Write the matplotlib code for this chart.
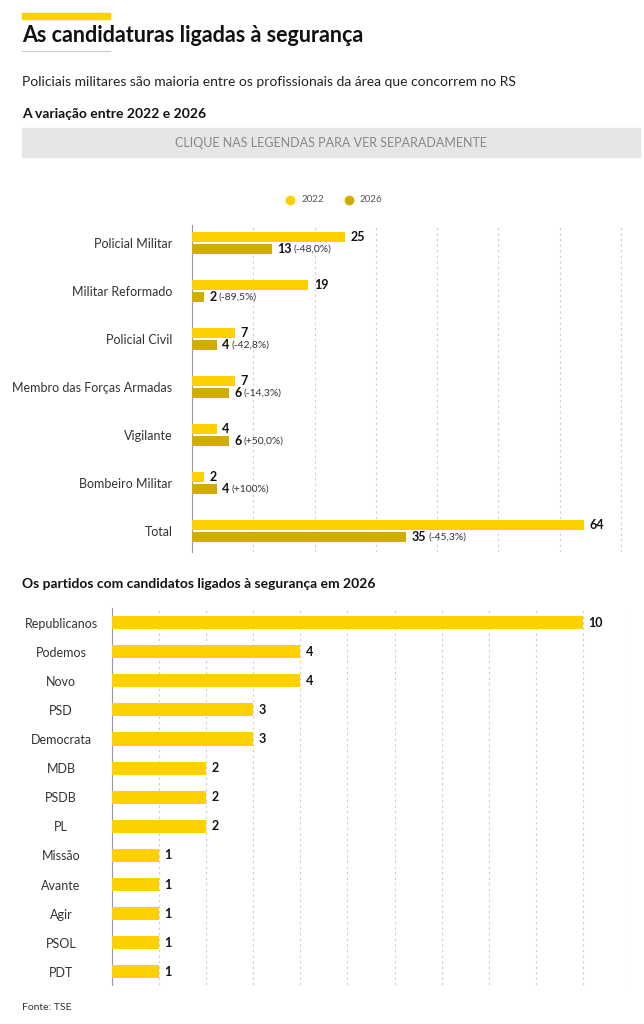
import matplotlib.pyplot as plt
from matplotlib.patches import Rectangle

plt.rcParams['font.family'] = ['Lato', 'DejaVu Sans']

# Data
roles = ['Policial Militar', 'Militar Reformado', 'Policial Civil', 'Membro das Forças Armadas',
         'Vigilante', 'Bombeiro Militar', 'Total']
v2022 = [25, 19, 7, 7, 4, 2, 64]
v2026 = [13, 2, 4, 6, 6, 4, 35]
pct = ['(-48,0%)', '(-89,5%)', '(-42,8%)', '(-14,3%)', '(+50,0%)', '(+100%)', '(-45,3%)']

parties = ['Republicanos', 'Podemos', 'Novo', 'PSD', 'Democrata', 'MDB', 'PSDB', 'PL',
           'Missão', 'Avante', 'Agir', 'PSOL', 'PDT']
party_vals = [10, 4, 4, 3, 3, 2, 2, 2, 1, 1, 1, 1, 1]

C22 = '#FDD000'
C26 = '#D2AC00'
W, H = 644, 1024

fig = plt.figure(figsize=(W / 100, H / 100), dpi=100)

def fx(px):
    return px / W

def fy(py):
    return 1 - py / H

# Header
fig.patches.append(Rectangle((fx(22), fy(19)), fx(88), 6 / H, color=C22, transform=fig.transFigure))
fig.text(fx(22), fy(36), 'As candidaturas ligadas à segurança', fontsize=15.5, fontweight='bold',
         va='center', color='#111111')
fig.add_artist(plt.Line2D([fx(22), fx(110)], [fy(51), fy(51)], color='#cccccc', lw=0.8))
fig.text(fx(22), fy(82), 'Policiais militares são maioria entre os profissionais da área que concorrem no RS',
         fontsize=10, va='center', color='#222222')
fig.text(fx(22), fy(114), 'A variação entre 2022 e 2026', fontsize=10, fontweight='bold',
         va='center', color='#111111')
fig.patches.append(Rectangle((fx(22), fy(157)), fx(618), 29 / H, color='#e6e6e6',
                             transform=fig.transFigure))
fig.text(fx(331), fy(143), 'CLIQUE NAS LEGENDAS PARA VER SEPARADAMENTE', fontsize=9,
         ha='center', va='center', color='#888888')

# Legend
for xp, lab, c in [(290, '2022', C22), (349, '2026', C26)]:
    fig.add_artist(plt.Line2D([fx(xp)], [fy(200)], marker='o', color=c, markersize=6, lw=0))
    fig.text(fx(xp + 11), fy(200), lab, fontsize=7, va='center', color='#555555')

# Chart 1
ax1 = fig.add_axes([fx(192), fy(552), fx(438), 327 / H])
y = list(range(len(roles)))
bh = 0.21
ax1.barh([i - 0.125 for i in y], v2022, height=bh, color=C22, zorder=3)
ax1.barh([i + 0.125 for i in y], v2026, height=bh, color=C26, zorder=3)
ax1.set_xlim(0, 71.5)
ax1.set_ylim(6.44, -0.375)
ax1.set_yticks(y)
ax1.set_yticklabels(roles, fontsize=9, color='#333333')
ax1.set_xticks(range(10, 71, 10))
ax1.set_xticklabels([])
ax1.tick_params(length=0, pad=14)
ax1.grid(axis='x', linestyle=(0, (2, 3)), color='#cccccc', lw=0.8, zorder=0)
for s in ['top', 'right', 'bottom']:
    ax1.spines[s].set_visible(False)
ax1.spines['left'].set_color('#999999')
for i in y:
    ax1.annotate(str(v2022[i]), (v2022[i], i - 0.125), xytext=(4, 0), textcoords='offset points',
                 fontsize=9, fontweight='bold', va='center', color='#111111')
    ax1.annotate(str(v2026[i]), (v2026[i], i + 0.125), xytext=(4, 0), textcoords='offset points',
                 fontsize=9, fontweight='bold', va='center', color='#111111')
    ax1.annotate(pct[i], (v2026[i], i + 0.125), xytext=(5 + 5.5 * len(str(v2026[i])), 0),
                 textcoords='offset points', fontsize=7.5, va='center', color='#333333')

# Chart 2
fig.text(fx(22), fy(584), 'Os partidos com candidatos ligados à segurança em 2026', fontsize=10,
         fontweight='bold', va='center', color='#111111')
ax2 = fig.add_axes([fx(112), fy(985), fx(518), 377 / H])
y2 = list(range(len(parties)))
ax2.barh(y2, party_vals, height=0.45, color=C22, zorder=3)
ax2.set_xlim(0, 11)
ax2.set_ylim(12.45, -0.5)
ax2.set_yticks(y2)
ax2.set_yticklabels(parties, fontsize=9, color='#333333')
for lab in ax2.get_yticklabels():
    lab.set_horizontalalignment('center')
    lab.set_x(-0.089)
ax2.set_xticks(range(1, 12))
ax2.set_xticklabels([])
ax2.tick_params(length=0)
ax2.grid(axis='x', linestyle=(0, (2, 3)), color='#cccccc', lw=0.8, zorder=0)
for s in ['top', 'right', 'bottom']:
    ax2.spines[s].set_visible(False)
ax2.spines['left'].set_color('#999999')
for i in y2:
    ax2.annotate(str(party_vals[i]), (party_vals[i], i), xytext=(4, 0), textcoords='offset points',
                 fontsize=9, fontweight='bold', va='center', color='#111111')

fig.text(fx(22), fy(1008), 'Fonte: TSE', fontsize=7.5, va='center', color='#333333')

fig.savefig('out.png', dpi=100)
